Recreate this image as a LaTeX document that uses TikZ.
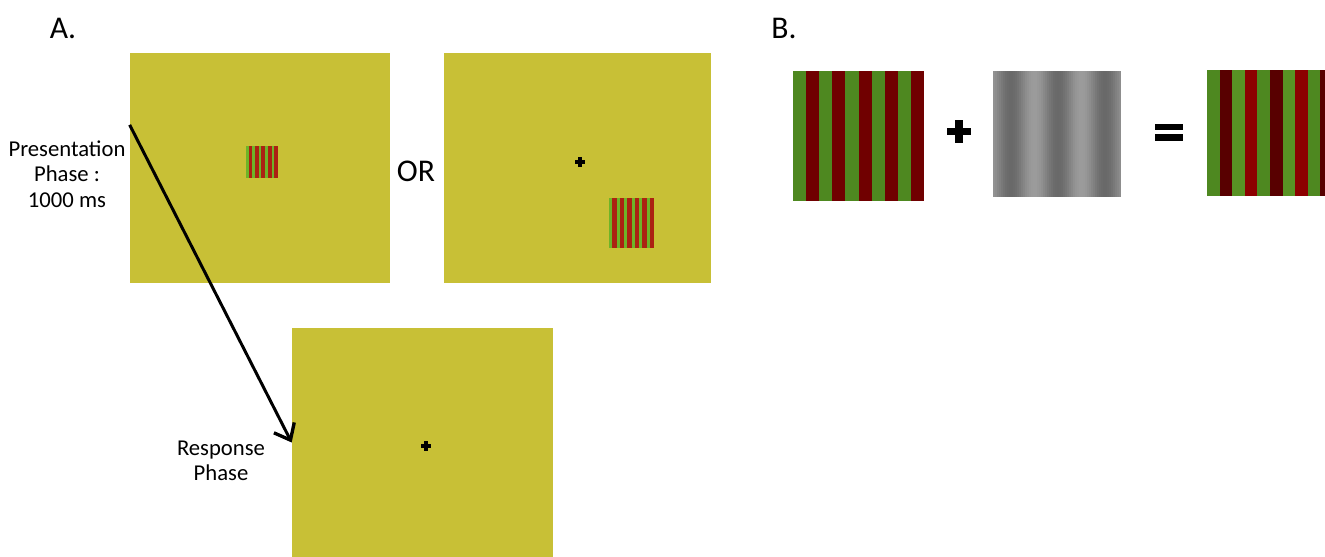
\documentclass[tikz,border=0pt]{standalone}
\usepackage{fontspec}
\setmainfont{Carlito}
\usetikzlibrary{arrows.meta,calc}
\definecolor{screen}{RGB}{200,192,54}
\definecolor{lgreen}{RGB}{110,180,40}
\definecolor{lred}{RGB}{172,34,18}
\definecolor{dgreen}{RGB}{78,136,32}
\definecolor{dred}{RGB}{112,0,0}
\definecolor{sgreen}{RGB}{88,146,36}
\definecolor{sred}{RGB}{140,0,0}
\definecolor{xred}{RGB}{88,0,0}
\tikzset{
    panel/.style={draw=none,fill=screen,minimum width=5.2cm,minimum height=4.6cm,inner sep=0pt},
    label text/.style={align=center,font=\fontsize{12.9}{14.4}\selectfont},
    fix/.style={line width=1.9pt},
  }
\begin{document}
\begin{tikzpicture}[x=0.02cm,y=-0.02cm]
  \useasboundingbox (0,0) rectangle (1325,557);
  %titres
  \node[font=\fontsize{18}{20}\selectfont] (titA) at (63,28) {A.};
  \node[font=\fontsize{18}{20}\selectfont] (titB) at (784,28) {B.};
  %ecrans
  \node[panel] (pres) at (260,168) {};
  \node[panel,minimum width=5.34cm] (cue) at (577.5,168) {};
  \node[panel,minimum width=5.22cm,minimum height=4.58cm] (resp) at (422.5,442.5) {};
  \node[font=\fontsize{18}{20}\selectfont] (or) at (416,171) {OR};
  %petits reseaux
  \foreach \i in {0,...,4}{
    \fill[lgreen] (246+6.4*\i,146) rectangle +(2.6,32);
    \fill[lred] (248.6+6.4*\i,146) rectangle +(3.8,32);
  }
  \foreach \i in {0,...,5}{
    \fill[lgreen] (609+7.5*\i,198) rectangle +(3,50);
    \fill[lred] (612+7.5*\i,198) rectangle +(4.5,50);
  }
  %croix de fixation
  \coordinate (fixcue) at (580,162);
  \coordinate (fixresp) at (426,446);
  \foreach \c in {fixcue,fixresp}{
    \draw[fix] (\c) +(-5,0) -- +(5,0);
    \draw[fix] (\c) +(0,-5) -- +(0,5);
  }
  %phases
  \node[label text] (presl) at (67,174) {Presentation\\Phase :\\1000 ms};
  \node[label text] (respl) at (221,461) {Response\\Phase};
  \coordinate (start) at ($(pres.north west)!0.313!(pres.south west)$);
  \draw[line width=1.7pt,-{Straight Barb[length=8pt,width=13pt,line width=1.9pt]}] (start) -- (resp.west);
  %B : reseau + bruit = somme
  \foreach \i in {0,...,4}{
    \fill[dgreen] (793+26.2*\i,71) rectangle +(13.1,130);
    \fill[dred] (806.1+26.2*\i,71) rectangle +(13.1,130);
  }
  \foreach \i in {0,...,63}{
    \pgfmathsetmacro{\k}{100-(130-25*cos((2*\i-17)/47*360))/2.55}
    \fill[black!\k] (993+2*\i,71) rectangle +(2.05,126);
  }
  \foreach \i/\g/\r in {0/dgreen/xred,1/sgreen/sred,2/dgreen/xred,3/sgreen/sred,4/dgreen/xred}{
    \fill[\g] (1207+25.2*\i,70) rectangle +(12.6,126);
    \fill[\r] (1219.6+25.2*\i,70) rectangle +(12.6,126);
  }
  \node[minimum width=0pt,inner sep=0pt] (plus) at (958.7,131.5) {};
  \fill (plus) +(-12,-3.5) rectangle +(12,3.5);
  \fill (plus) +(-4,-11.5) rectangle +(4,11.5);
  \node[minimum width=0pt,inner sep=0pt] (equal) at (1169,132) {};
  \fill (equal) +(-14,-8) rectangle +(14,-2);
  \fill (equal) +(-14,2) rectangle +(14,9);
\end{tikzpicture}
\end{document}
